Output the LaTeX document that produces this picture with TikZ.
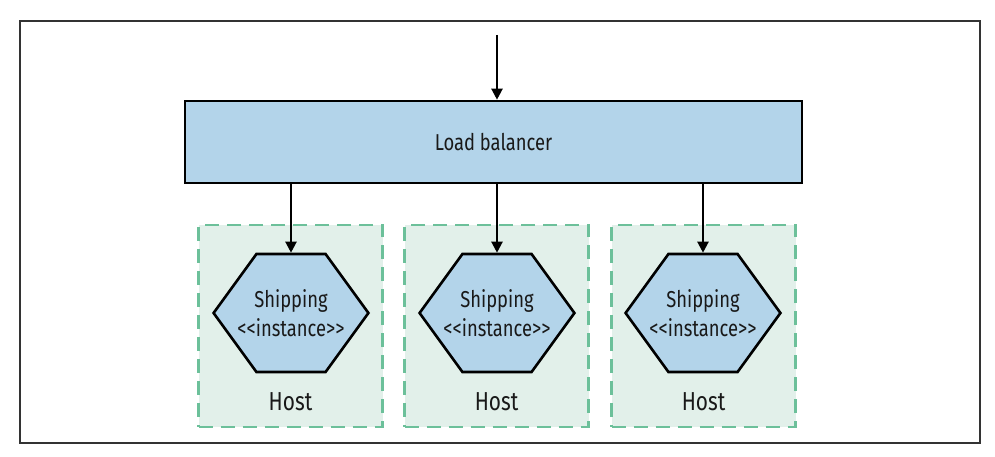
\documentclass[tikz,border=0pt]{standalone}
\usepackage{fontspec}
\setmainfont[FakeStretch=0.8]{Fira Sans}
\usetikzlibrary{positioning,shapes.symbols,arrows.meta}
\definecolor{lbblue}{HTML}{B3D4EA}
\definecolor{hostfill}{HTML}{E2F0EA}
\definecolor{hostline}{HTML}{6CC09A}
\begin{document}
\begin{tikzpicture}[x=1pt,y=-1pt]
	\useasboundingbox (0,0) rectangle (995,457);
	\draw[line width=1.5pt,black!80] (20,21) rectangle (980,443);
	\begin{scope}[every node/.style={draw=hostline,fill=hostfill,dash pattern=on 14pt off 8pt,line width=2.6pt,minimum width=184pt,minimum height=202pt,inner sep=0}]
		\node (h1) at (290.5,326) {};
		\node (h2) at (496.5,326) {};
		\node (h3) at (703.5,326) {};
	\end{scope}
	\begin{scope}[every node/.style={font=\fontsize{26}{28}\selectfont,text=black!90}]
		\node (t1) at (290.5,402) {Host};
		\node (t2) at (496.5,402) {Host};
		\node (t3) at (703.5,402) {Host};
	\end{scope}
	\node[draw,fill=lbblue,line width=2.6pt,minimum width=617pt,minimum height=82pt,text=black!90,font=\fontsize{23}{26}\selectfont] (lb) at (493.5,142) {Load balancer};
	\begin{scope}[every node/.style={signal,signal to=east and west,signal pointer angle=108,draw,fill=lbblue,line width=2.6pt,minimum height=118pt,inner ysep=0,inner xsep=-19pt,align=center,text=black!90,font=\fontsize{23}{29}\selectfont}]
		\node (s1) at (291,313) {Shipping\\{<}{<}instance{>}{>}};
		\node (s2) at (497,313) {Shipping\\{<}{<}instance{>}{>}};
		\node (s3) at (703,313) {Shipping\\{<}{<}instance{>}{>}};
	\end{scope}
	\coordinate (in) at (497,35);
	\begin{scope}[every path/.style={line width=2.2pt,-{Triangle[length=11pt,width=11pt]}}]
		\draw (in) -- (lb.north -| in);
		\draw (lb.south -| s1.north) -- (s1.north);
		\draw (lb.south -| s2.north) -- (s2.north);
		\draw (lb.south -| s3.north) -- (s3.north);
	\end{scope}
\end{tikzpicture}
\end{document}
